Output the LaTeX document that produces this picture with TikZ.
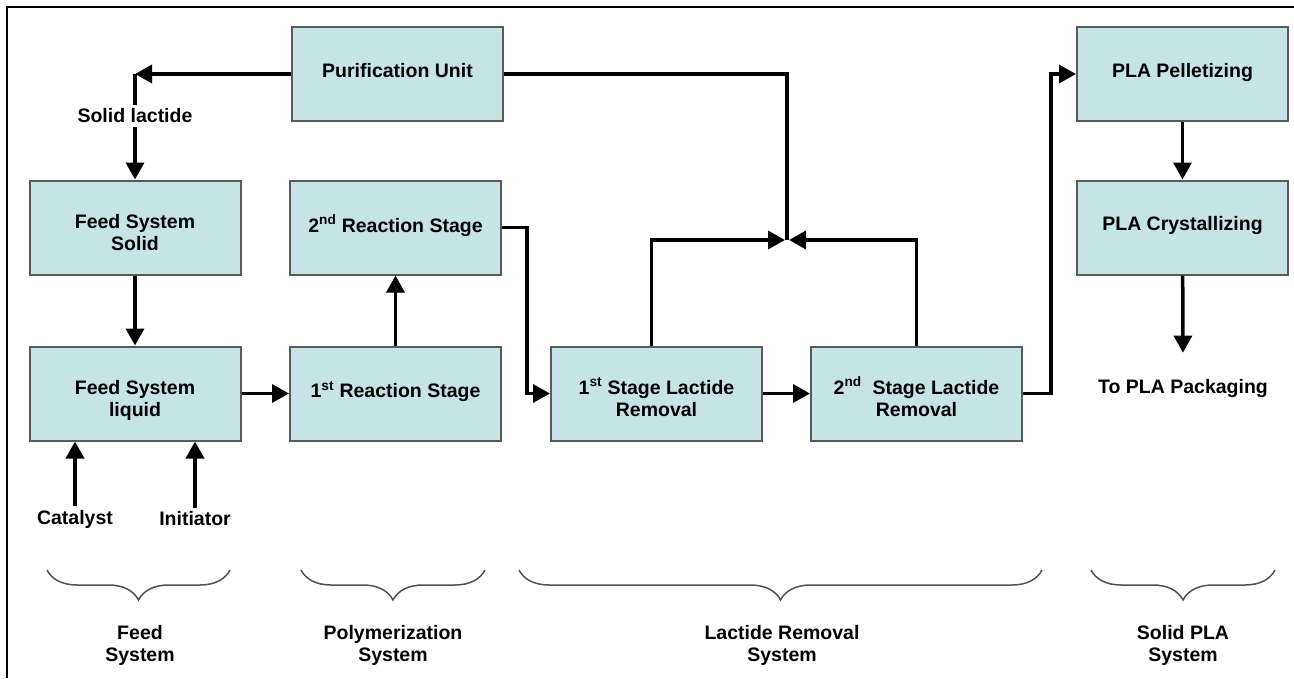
\documentclass[tikz,border=0pt]{standalone}
\usepackage{fontspec}
\setmainfont{Liberation Sans}
\usepackage{tikz}
\usetikzlibrary{arrows.meta, positioning, decorations.pathreplacing}

\definecolor{unitfill}{RGB}{198,228,230}
\definecolor{unitline}{RGB}{90,90,90}
\definecolor{bracegray}{RGB}{85,80,80}

\newcommand{\blockfont}{\bfseries\fontsize{19.5}{22}\selectfont}

\tikzset{
  unit/.style    = {draw=unitline, fill=unitfill, line width=2pt, minimum width=211pt,
                    minimum height=94pt, inner sep=0pt, align=center, font=\blockfont},
  oneline/.style = {unit, text depth=8pt},
  twoline/.style = {unit, text height=46pt, text depth=0pt},
  tag/.style     = {inner sep=4pt, align=center, font=\blockfont},
  flow/.style    = {line width=3.5pt, -{Triangle[length=17pt,width=18pt]}},
  pipe/.style    = {line width=3.5pt},
  group/.style   = {draw=bracegray, line width=1.5pt, decorate,
                    decoration={brace, mirror, amplitude=30pt}},
}

\begin{document}
\begin{tikzpicture}[x=1pt, y=-1pt, node distance=160pt]

\useasboundingbox (0,0) rectangle (1294,678);
\draw [line width=2pt] (7,678) -- (7,7) -- (1294,7);

\node [oneline, at={(397.5,74)}                       ] (pur) {Purification Unit};
\node [oneline, below of=pur, yshift=6.5pt, xshift=-2pt] (rs2) {2\textsuperscript{nd} Reaction Stage};
\node [twoline, left  of=rs2, xshift=-100.5pt         ] (sol) {Feed System\\Solid};
\node [twoline, below of=sol, yshift=-6pt             ] (liq) {Feed System\\liquid};
\node [oneline, below of=rs2, yshift=-6pt             ] (rs1) {1\textsuperscript{st} Reaction Stage};
\node [twoline, right of=rs1, xshift=101pt            ] (lr1) {1\textsuperscript{st} Stage Lactide\\Removal};
\node [twoline, right of=lr1, xshift=100pt            ] (lr2) {2\textsuperscript{nd}\ \ Stage Lactide\\Removal};
\node [oneline, at={(1182.5,74)}                      ] (pel) {PLA Pelletizing};
\node [oneline, below of=pel, yshift=6.5pt            ] (cry) {PLA Crystallizing};

\node [tag, at={(135,116)}  ] (lact) {Solid lactide};
\node [tag, at={(75,519)}   ] (cat)  {Catalyst};
\node [tag, at={(195,519)}  ] (ini)  {Initiator};
\node [tag, at={(1183,388)} ] (pack) {To PLA Packaging};

\coordinate (bend)  at (sol.north |- pur.west);
\coordinate (merge) at (787,240);

% main flow
\path [draw, flow] (sol) edge (liq);
\path [draw, flow] (liq) edge (rs1);
\path [draw, flow] (rs1) edge (rs2);
\path [draw, flow] (lr1) edge (lr2);
\path [draw, flow] (pel) edge (cry);
\draw [flow] (rs2.east) -- ++(25,0) |- (lr1.west);
\draw [flow] (lr2.east) -- ++(28,0) |- (pel.west);
\draw [flow] (cry) -- ([yshift=22pt]pack.north);

% additives
\draw [flow] (cat) -- (cat |- liq.south);
\draw [flow] (ini) -- (ini |- liq.south);

% lactide recycle
\draw [pipe] (pur.east) -| (merge);
\draw [flow] ([xshift=-5pt]lr1.north) |- ([xshift=-2pt]merge);
\draw [flow] (lr2.north) |- ([xshift=2pt]merge);
\draw [flow] (pur.west) -- (bend);
\draw [pipe] (bend) -- (lact.north);
\draw [flow] (lact) -- (sol);

% system groups
\draw [group] (47,570)   -- (230,570);
\draw [group] (301,570)  -- (485,570);
\draw [group] (519,570)  -- (1042,570);
\draw [group] (1091,570) -- (1275,570);

\node [tag, at={(140,645)} ] (gfeed) {Feed\\System};
\node [tag, at={(393,645)} ] (gpoly) {Polymerization\\System};
\node [tag, at={(782,645)} ] (glact) {Lactide Removal\\System};
\node [tag, at={(1183,645)}] (gsolid) {Solid PLA\\System};

\end{tikzpicture}
\end{document}
